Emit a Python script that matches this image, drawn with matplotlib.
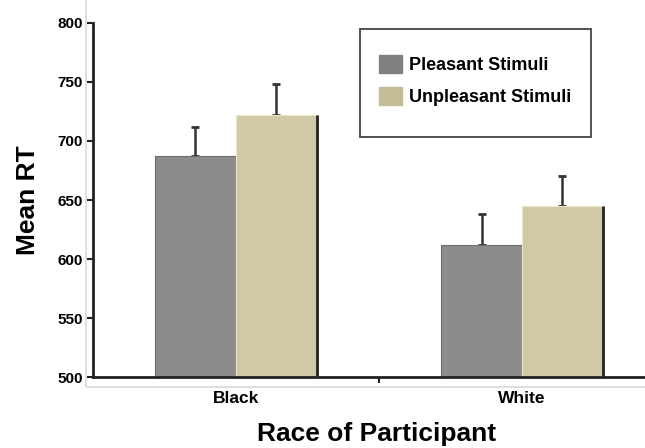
import matplotlib.pyplot as plt
import matplotlib.patches as mpatches
import numpy as np

plt.rcParams['font.family'] = ['Liberation Sans', 'DejaVu Sans']
plt.rcParams['font.weight'] = 'bold'

races = ['Black', 'White']
pleasant = [687, 612]
unpleasant = [722, 645]
pleasant_err = [25, 26]
unpleasant_err = [26, 25]

c_pleasant = '#8c8c8c'
c_unpleasant = '#cfc9a6'
width = 0.283

fig = plt.figure(figsize=(6.45, 4.48), dpi=100)
ax = fig.add_axes([0.144, 0.158, 0.856, 0.791])

x = np.arange(len(races))
ax.bar(x - width / 2, pleasant, width, color=c_pleasant,
       edgecolor='#6e6e6e', linewidth=0.8, zorder=2)
ax.bar(x + width / 2, unpleasant, width, color=c_unpleasant,
       edgecolor='#ece6c4', linewidth=0.8, zorder=2)
# dark shadow line on right edge of the unpleasant bars
ax.vlines(x + width, 500, unpleasant, color='#222222', lw=2, zorder=3)

ax.errorbar(x - width / 2, pleasant, yerr=[np.zeros(2), pleasant_err],
            fmt='none', ecolor='#333333', elinewidth=1.8, capsize=3,
            capthick=2, zorder=1)
ax.errorbar(x + width / 2, unpleasant, yerr=[np.zeros(2), unpleasant_err],
            fmt='none', ecolor='#333333', elinewidth=1.8, capsize=3,
            capthick=2, zorder=1)

ax.set_ylim(500, 800)
ax.set_xlim(-0.5, 1.43)
ax.set_yticks(range(500, 801, 50))
ax.set_xticks(x)
ax.set_xticklabels(races, fontsize=12.5, fontweight='bold')
ax.set_xticks([0.5], minor=True)
ax.tick_params(axis='x', which='major', length=0, pad=10)
ax.tick_params(axis='x', which='minor', length=4, width=1.5, color='#222222')
ax.tick_params(axis='y', length=4, width=1.5, color='#222222', labelsize=11, pad=3)
for lbl in ax.get_yticklabels():
    lbl.set_fontweight('bold')

for s in ['top', 'right']:
    ax.spines[s].set_visible(False)
for s in ['left', 'bottom']:
    ax.spines[s].set_linewidth(2)
    ax.spines[s].set_color('#222222')

ax.set_ylabel('Mean RT', fontsize=19, fontweight='bold', labelpad=13)
fig.text(377 / 645, 1 - 441 / 448, 'Race of Participant', fontsize=19,
         fontweight='bold', ha='center', va='baseline')

# light grey frame around plot area
fig.patches.append(mpatches.Rectangle((86 / 645, 1 - 387 / 448), 1, 387 / 448 + 0.01,
                                      transform=fig.transFigure, fill=False,
                                      edgecolor='#d8d8d8', lw=1.2, zorder=0))

# legend box
fig.patches.append(mpatches.Rectangle((360 / 645, 1 - 137 / 448), 231 / 645, 108 / 448,
                                      transform=fig.transFigure, facecolor='white',
                                      edgecolor='#444444', lw=1.3, zorder=5))

handles = [mpatches.Patch(color='#808080', label='Pleasant Stimuli'),
           mpatches.Patch(color='#c4bc94', label='Unpleasant Stimuli')]
leg = fig.legend(handles=handles, loc='upper left', bbox_to_anchor=(379 / 645, 1 - 55 / 448),
                 bbox_transform=fig.transFigure, fontsize=13, frameon=False,
                 borderpad=0, handlelength=1.3, handleheight=1.15,
                 labelspacing=0.72, handletextpad=0.35, borderaxespad=0)
leg.set_zorder(6)
for t in leg.get_texts():
    t.set_fontweight('bold')

fig.savefig('out.png', dpi=100)
